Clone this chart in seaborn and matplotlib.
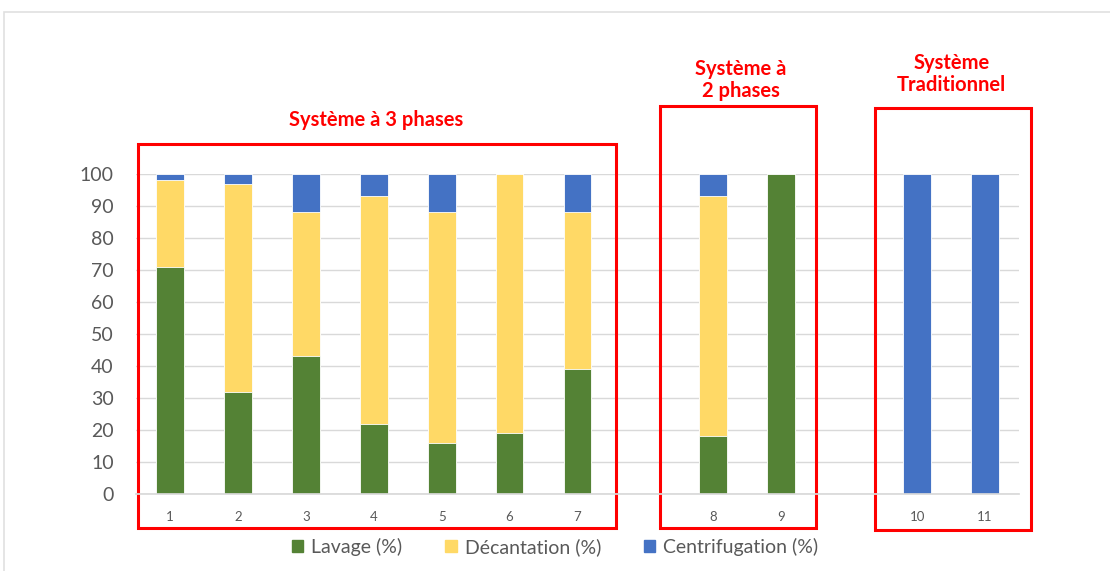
import matplotlib
matplotlib.use("Agg")
import matplotlib.pyplot as plt
import matplotlib.patches as mpatches
import numpy as np
import pandas as pd
import seaborn as sns

# Data (percent per process)
samples = ["1", "2", "3", "4", "5", "6", "7", "8", "9", "10", "11"]
lavage = [71, 32, 43, 22, 16, 19, 39, 18, 100, 0, 0]
decantation = [27, 65, 45, 71, 72, 81, 49, 75, 0, 0, 0]
centrifugation = [2, 3, 12, 7, 12, 0, 12, 7, 0, 100, 100]

series_names = ["Lavage (%)", "Décantation (%)", "Centrifugation (%)"]
colors = ["#548235", "#FFD966", "#4472C4"]

# slot order, with empty slots separating the three systems
order = ["1", "2", "3", "4", "5", "6", "7", "gap_a", "8", "9", "gap_b", "10", "11"]

groups = [
    "Système à 3 phases",
    "Système à\n2 phases",
    "Système\nTraditionnel",
]

df = pd.DataFrame({
    "sample": samples,
    "lavage": lavage,
    "decantation": decantation,
    "centrifugation": centrifugation,
})
df["top_lav"] = df["lavage"]
df["top_dec"] = df["lavage"] + df["decantation"]
df["top_cen"] = df["top_dec"] + df["centrifugation"]

sns.set_theme(style="white")
plt.rcParams["font.family"] = ["Lato", "DejaVu Sans"]

fig = plt.figure(figsize=(11.10, 5.71), dpi=100)
ax = fig.add_axes([0.1225, 0.1349, 0.7955, 0.5604])

bw = 0.41
for col, c in [("top_cen", colors[2]), ("top_dec", colors[1]), ("top_lav", colors[0])]:
    sns.barplot(data=df, x="sample", y=col, order=order, color=c, width=bw,
                saturation=1, edgecolor="white", linewidth=0.6, ax=ax)

ax.set_ylim(0, 100)
ax.set_xlim(-0.5, len(order) - 0.5)
ax.set_yticks(range(0, 101, 10))
ax.yaxis.grid(True, color="#D9D9D9", linewidth=1)
ax.set_axisbelow(True)
for s in ["top", "right", "left"]:
    ax.spines[s].set_visible(False)
ax.spines["bottom"].set_color("#D9D9D9")
ax.set_xticks(range(len(order)))
ax.set_xticklabels([o if not o.startswith("gap") else "" for o in order])
ax.tick_params(axis="x", labelsize=9.5, colors="#595959", length=0, pad=12)
ax.tick_params(axis="y", labelsize=14, colors="#595959", length=0, pad=16)
ax.set_xlabel("")
ax.set_ylabel("")

# red boxes around each system, with bold red titles
boxes = [
    (-0.47, 6.57, -10.6, 109.4),
    (7.22, 9.51, -10.6, 121.3),
    (10.38, 12.68, -11.2, 120.6),
]
title_pos = [(3.04, 116.9), (8.4, 129.4), (11.51, 131.3)]
for name, (x0, x1, y0, y1), (tx, ty) in zip(groups, boxes, title_pos):
    rect = mpatches.Rectangle((x0, y0), x1 - x0, y1 - y0, fill=False,
                              edgecolor="#FF0000", linewidth=2.2, clip_on=False)
    ax.add_patch(rect)
    ax.text(tx, ty, name, ha="center", va="center", color="#FF0000",
            fontsize=14.5, fontweight="bold", linespacing=1.15, clip_on=False)

# light chart-area border
fig.patches.append(mpatches.Rectangle((4 / 1110, -0.05), 1.1, 1.05 - 12 / 571,
                                      fill=False, edgecolor="#E0E0E0", linewidth=1.2,
                                      transform=fig.transFigure))

handles = [mpatches.Patch(color=c, label=n) for c, n in zip(colors, series_names)]
fig.legend(handles=handles, loc="center", bbox_to_anchor=(0.5, 1 - 547 / 571),
           ncol=3, frameon=False, fontsize=14, handlelength=0.6, handleheight=0.6,
           handletextpad=0.4, columnspacing=2.2, labelcolor="#595959")

fig.savefig("out.png", dpi=100)
